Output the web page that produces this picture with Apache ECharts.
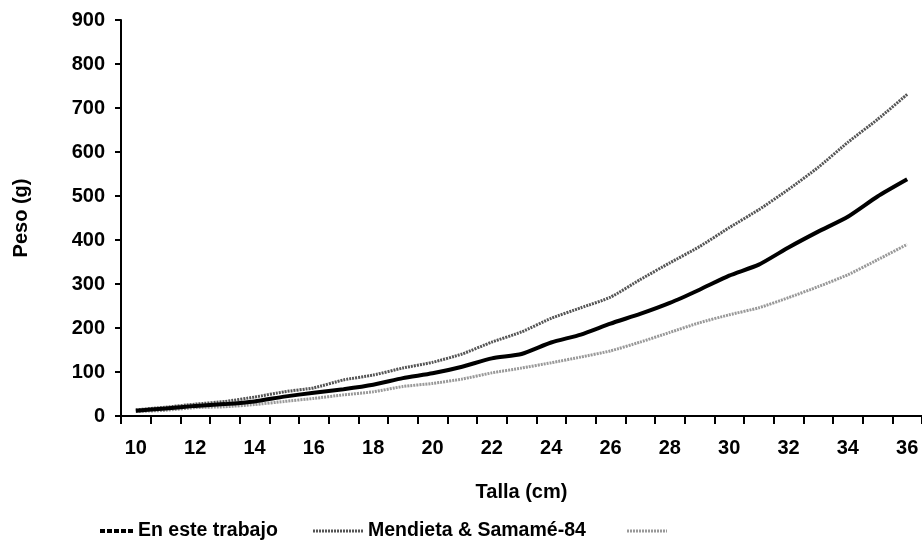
<!DOCTYPE html>
<html>
<head>
<meta charset="utf-8">
<script src="https://cdn.jsdelivr.net/npm/echarts@6/dist/echarts.min.js"></script>
<style>
html,body{margin:0;padding:0;background:#fff;}
#chart{width:922px;height:543px;}
</style>
</head>
<body>
<div id="chart"></div>
<script>
const tallas = ['10','11','12','13','14','15','16','17','18','19','20','21','22','23','24','25','26','27','28','29','30','31','32','33','34','35','36'];
const esteTrabajo = [12,17,23,27,33,44,53,61,71,86,97,112,131,141,167,185,210,232,257,287,319,344,383,419,453,499,538];
const mendieta = [14,20,27,33,43,55,64,82,93,109,122,141,168,191,222,246,270,310,348,385,428,469,515,565,622,674,731];
const tercera = [10,13,19,21,26,33,40,48,55,67,74,84,98,109,121,134,148,168,190,212,230,246,269,294,321,355,390];
const yTicks = [0,100,200,300,400,500,600,700,800,900];
const seriesNames = ['En este trabajo','Mendieta & Samamé-84',' '];

function dashPath(w, h, dash, gap){
  let p = '';
  for(let x=0; x<w; x+=dash+gap){
    const e = Math.min(x+dash, w);
    p += 'M'+x+',0H'+e+'V'+h+'H'+x+'Z ';
  }
  return 'path://'+p;
}

const font = 'Liberation Sans, Arial, Helvetica, sans-serif';
const legendText = {fontFamily:font,fontWeight:'bold',fontSize:19.5,color:'#000'};
function legendAt(left, w, name, icon, color){
  return {left:left,bottom:2,padding:0,itemWidth:w,itemHeight:10,textStyle:legendText,
    data:[{name:name,icon:icon,itemStyle:{color:color}}]};
}
const chart = echarts.init(document.getElementById('chart'));
chart.setOption({
  animation:false,
  backgroundColor:'#fff',
  textStyle:{fontFamily:font,fontWeight:'bold',color:'#000'},
  grid:{left:121,right:0,top:20,bottom:127,containLabel:false},
  legend:[
    legendAt(100, 33, seriesNames[0], dashPath(33,4,5,2), '#000'),
    legendAt(313, 50, seriesNames[1], dashPath(50,3,2,1), '#555'),
    legendAt(627, 40, seriesNames[2], dashPath(40,3,2,1), '#999')
  ],
  xAxis:{
    type:'category',data:tallas,boundaryGap:true,
    name:'Talla (cm)',nameLocation:'middle',nameGap:66,
    nameTextStyle:{fontFamily:font,fontWeight:'bold',fontSize:20,color:'#000'},
    axisLine:{lineStyle:{color:'#000',width:2}},
    axisTick:{show:true,interval:0,length:8,lineStyle:{color:'#000',width:2}},
    axisLabel:{interval:1,margin:22,fontFamily:font,fontWeight:'bold',fontSize:20,color:'#000'},
    splitLine:{show:false}
  },
  yAxis:{
    type:'value',min:0,max:900,interval:100,
    name:'Peso (g)',nameLocation:'middle',nameGap:90,nameRotate:90,
    nameTextStyle:{fontFamily:font,fontWeight:'bold',fontSize:20,color:'#000'},
    axisLine:{show:true,lineStyle:{color:'#000',width:2}},
    axisTick:{show:true,length:6,lineStyle:{color:'#000',width:2}},
    axisLabel:{margin:16,fontFamily:font,fontWeight:'bold',fontSize:20,color:'#000',
      formatter:function(v){return yTicks.indexOf(v)>=0?String(v):'';}},
    splitLine:{show:false}
  },
  series:[
    {name:seriesNames[0],type:'line',data:esteTrabajo,symbol:'none',smooth:0.2,z:5,
     lineStyle:{color:'#000',width:4},itemStyle:{color:'#000'}},
    {name:seriesNames[1],type:'line',data:mendieta,symbol:'none',smooth:0.2,z:4,
     lineStyle:{color:'#555',width:3,type:[2,1]},itemStyle:{color:'#555'}},
    {name:seriesNames[2],type:'line',data:tercera,symbol:'none',smooth:0.2,z:3,
     lineStyle:{color:'#999',width:3,type:[2,1]},itemStyle:{color:'#999'}}
  ]
});
</script>
</body>
</html>
